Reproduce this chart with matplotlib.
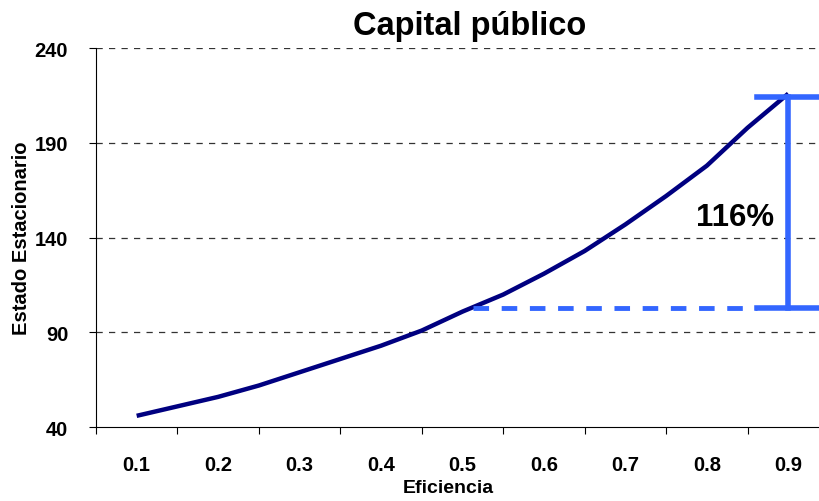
import matplotlib.pyplot as plt

# Data
eficiencia = [0.1, 0.15, 0.2, 0.25, 0.3, 0.35, 0.4, 0.45, 0.5,
              0.55, 0.6, 0.65, 0.7, 0.75, 0.8, 0.85, 0.9]
estado = [46, 51, 56, 62, 69, 76, 83, 91, 101,
          110, 121, 133, 147, 162, 178, 198, 216]
categorias = ['0.1', '0.2', '0.3', '0.4', '0.5', '0.6', '0.7', '0.8', '0.9']
y_ticks = [40, 90, 140, 190, 240]

# annotation values
base = 103
tope = 214
etiqueta = '116%'

plt.rcParams['font.family'] = ['Liberation Sans', 'DejaVu Sans']
plt.rcParams['font.weight'] = 'bold'

fig = plt.figure(figsize=(8.2, 5.02), dpi=100)
ax = fig.add_axes([0.117, 0.147, 0.894, 0.755])

# category positions (one slot per label, ticks between)
xpos = [(e - 0.1) * 10 + 0.5 for e in eficiencia]
ax.plot(xpos, estado, color='#000080', lw=3.2, solid_capstyle='butt', zorder=3)

azul = '#3366FF'
ax.plot([4.63, 8.12], [base, base], color=azul, lw=3.5, dashes=(3.2, 2.6), zorder=4)
ax.plot([8.12, 9.0], [base, base], color=azul, lw=4, zorder=4, clip_on=False)
ax.plot([8.12, 9.0], [tope, tope], color=azul, lw=4, zorder=4, clip_on=False)
ax.plot([8.5, 8.5], [base, tope], color=azul, lw=4, zorder=4)
ax.text(7.85, 151, etiqueta, fontsize=22.5, fontweight='bold', ha='center', va='center')

ax.set_xlim(0, 9)
ax.set_ylim(40, 240)
ax.set_yticks(y_ticks)
ax.set_yticklabels([str(v) for v in y_ticks], fontsize=14.5, fontweight='bold')
ax.set_xticks(range(10))
ax.set_xticklabels([])
ax.set_xticks([i + 0.5 for i in range(9)], minor=True)
ax.set_xticklabels(categorias, minor=True, fontsize=14.5, fontweight='bold')
ax.tick_params(axis='x', which='minor', length=0, pad=20)
ax.tick_params(axis='x', which='major', length=5, direction='out')
ax.tick_params(axis='y', length=5, direction='out', pad=15)

for v in y_ticks[1:]:
    ax.axhline(v, color='#333333', lw=0.9, dashes=(5, 5), zorder=1)

ax.spines['top'].set_visible(False)
ax.spines['right'].set_visible(False)

fig.text(448 / 820, 1 - 489 / 502, 'Eficiencia', fontsize=14, fontweight='bold',
         ha='center', va='center')
fig.text(22 / 820, 1 - 238 / 502, 'Estado Estacionario', fontsize=14.5,
         fontweight='bold', rotation=90, ha='center', va='center')
fig.text(0.573, 0.948, 'Capital público', fontsize=23.5, fontweight='bold',
         ha='center', va='center')

fig.savefig('out.png', dpi=100)
